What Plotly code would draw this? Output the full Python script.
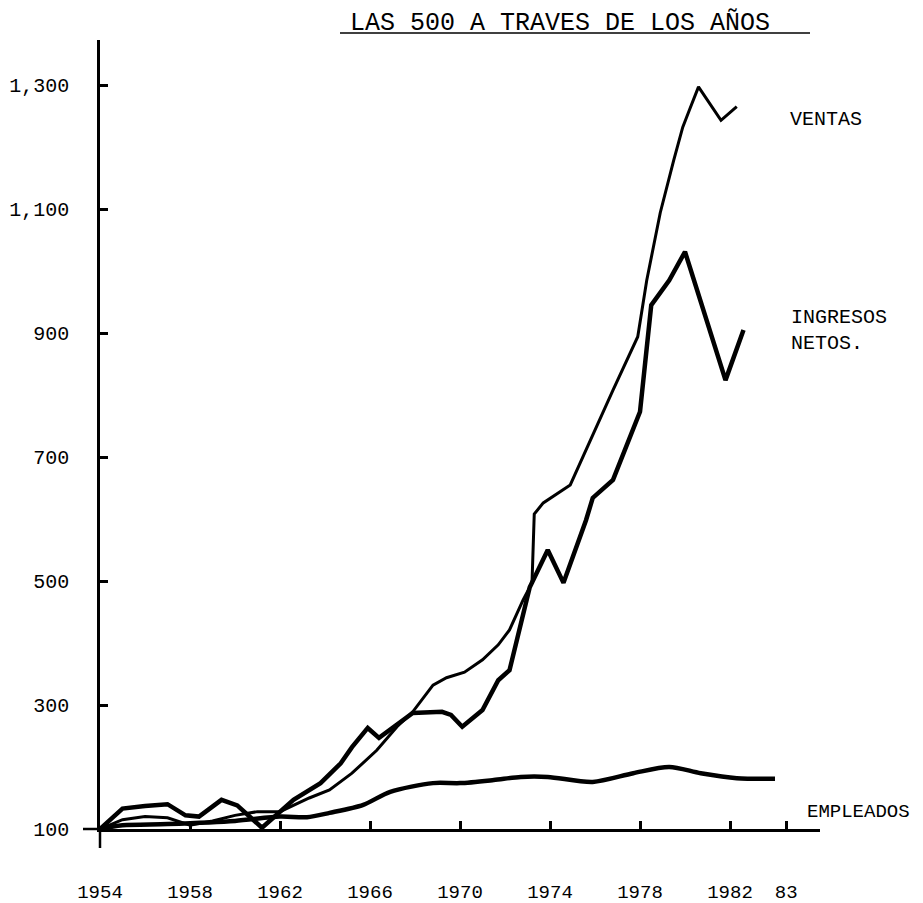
import plotly.graph_objects as go

# ---- data (index values, 1954 = 100) ----
ventas_years = [1954, 1955, 1956, 1957, 1958, 1959, 1960, 1961, 1962, 1963.3, 1964.2, 1965.2,
                1966.3, 1967.2, 1967.9, 1968.8, 1969.4, 1970.2, 1971.0, 1971.7, 1972.2, 1972.8,
                1973.2, 1973.3, 1973.7, 1974.9, 1976.8, 1977.9, 1978.3, 1978.9, 1979.5, 1979.9,
                1980.2, 1980.6, 1981.6, 1982.3]
ventas = [100, 115, 120, 118, 106, 113, 122, 128, 128, 150, 163, 190,
          227, 265, 289, 332, 344, 353, 373, 397, 421, 469,
          497, 608, 626, 655, 808, 894, 985, 1094, 1179, 1232,
          1260, 1297, 1243, 1265]

ingresos_years = [1954, 1955, 1956, 1957, 1957.8, 1958.4, 1959.4, 1960.1, 1961.2, 1962,
                  1962.6, 1963.8, 1964.7, 1965.2, 1965.9, 1966.4, 1967.2, 1967.9, 1969.2, 1969.6,
                  1970.1, 1971.0, 1971.7, 1972.2, 1973.1, 1973.9, 1974.6, 1975.6, 1975.9, 1976.8,
                  1978.0, 1978.5, 1979.3, 1980.0, 1981.8, 1982.6]
ingresos = [100, 133, 137, 140, 122, 120, 147, 138, 102, 128,
            147, 174, 206, 232, 263, 247, 268, 287, 289, 284,
            265, 292, 340, 356, 490, 550, 497, 598, 634, 663,
            773, 945, 985, 1031, 824, 905]

empleados_years = [1954, 1955, 1957, 1960, 1962, 1963.2, 1964.2, 1965.7, 1966.9, 1968.8,
                   1970, 1971.5, 1972.7, 1973.9, 1975.9, 1977.7, 1979.3, 1980.7, 1982.3, 1984.0]
empleados = [100, 106, 108, 113, 120, 119, 126, 139, 160, 174,
             174, 179, 184, 184, 176, 190, 200, 190, 182, 181]

x_tick_vals = [1954, 1958, 1962, 1966, 1970, 1974, 1978, 1982, 1984.5]
x_tick_text = ["1954", "1958", "1962", "1966", "1970", "1974", "1978", "1982", "83"]
y_tick_vals = [100, 300, 500, 700, 900, 1100, 1300]
y_tick_text = ["100", "300", "500", "700", "900", "1,100", "1,300"]

title_text = "LAS 500 A TRAVES DE LOS AÑOS"
label_ventas = "VENTAS"
label_ingresos = "INGRESOS<br>NETOS."
label_empleados = "EMPLEADOS"

# ---- layout geometry (pixels); the page adds an 8px body margin ----
OFF = 8
W, H = 923 - OFF, 903 - OFF
L, R, T, B = 100 - OFF, 820 - OFF, 40 - OFF, 829 - OFF
FONT = "Liberation Mono"


def px(x):
    """reference-window x pixel -> paper coordinate"""
    return (x - OFF - L) / (R - L)


def py(y):
    """reference-window y pixel -> paper coordinate"""
    return (B - (y - OFF)) / (B - T)


fig = go.Figure()
fig.add_trace(go.Scatter(x=ventas_years, y=ventas, mode="lines",
                         line=dict(color="black", width=3), name="VENTAS"))
fig.add_trace(go.Scatter(x=ingresos_years, y=ingresos, mode="lines",
                         line=dict(color="black", width=4.5), name="INGRESOS NETOS"))
fig.add_trace(go.Scatter(x=empleados_years, y=empleados, mode="lines",
                         line=dict(color="black", width=4.5, shape="spline", smoothing=0.8),
                         name="EMPLEADOS"))

fig.update_layout(
    width=W, height=H,
    margin=dict(l=L, r=W - R, t=T, b=H - B, pad=0, autoexpand=False),
    paper_bgcolor="white", plot_bgcolor="white",
    showlegend=False,
    font=dict(family=FONT, color="black", size=20),
    xaxis=dict(range=[1954, 1986], tickvals=x_tick_vals, ticktext=x_tick_text,
               showgrid=False, zeroline=False, showline=True, linecolor="black",
               linewidth=2.5, ticks="inside", ticklen=8, tickwidth=2.5, tickcolor="black",
               tickfont=dict(family=FONT, size=19, color="black"),
               ticklabelstandoff=43, automargin=False),
    yaxis=dict(range=[100, 100 + (B - T) / 0.62], tickvals=y_tick_vals, ticktext=y_tick_text,
               showgrid=False, zeroline=False, showline=True, linecolor="black",
               linewidth=2.5, ticks="inside", ticklen=8, tickwidth=3, tickcolor="black",
               tickfont=dict(family=FONT, size=20, color="black"),
               ticklabelstandoff=24, automargin=False),
)

# axis extensions and title underline
fig.add_shape(type="line", xref="paper", yref="paper", x0=px(100), x1=px(100),
              y0=py(829), y1=py(848), line=dict(color="black", width=2.5))
fig.add_shape(type="line", xref="paper", yref="paper", x0=px(83), x1=px(100),
              y0=py(829), y1=py(829), line=dict(color="black", width=2.5))
fig.add_shape(type="line", xref="paper", yref="paper", x0=px(340), x1=px(810),
              y0=py(33), y1=py(33), line=dict(color="black", width=1.5))

fig.add_annotation(text=title_text, xref="paper", yref="paper", x=px(560), y=py(23),
                   xanchor="center", yanchor="middle", showarrow=False,
                   font=dict(family=FONT, size=25, color="black"))
fig.add_annotation(text=label_ventas, xref="paper", yref="paper", x=px(788), y=py(119),
                   xanchor="left", yanchor="middle", showarrow=False,
                   font=dict(family=FONT, size=20, color="black"))
fig.add_annotation(text=label_ingresos, xref="paper", yref="paper", x=px(789), y=py(330),
                   xanchor="left", yanchor="middle", showarrow=False, align="left",
                   font=dict(family=FONT, size=20, color="black"))
fig.add_annotation(text=label_empleados, xref="paper", yref="paper", x=px(805), y=py(812),
                   xanchor="left", yanchor="middle", showarrow=False,
                   font=dict(family=FONT, size=19, color="black"))

fig.write_html("out.html")
